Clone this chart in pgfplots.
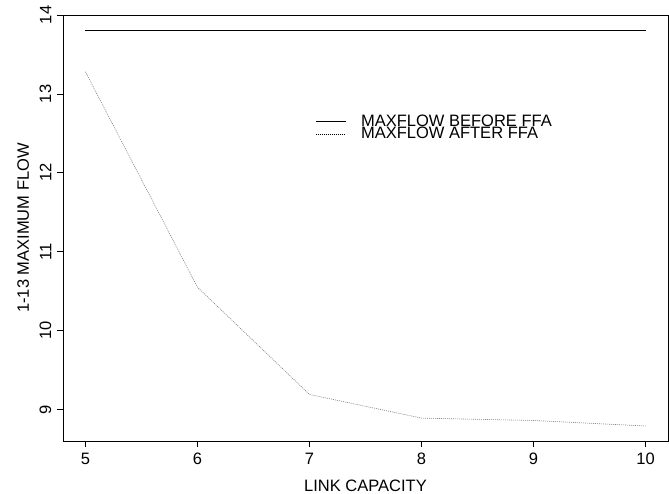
\documentclass[border=0pt]{standalone}
\usepackage{pgfplots}
\pgfplotsset{compat=1.18}
\usepackage{fontspec}
\setmainfont{Liberation Sans}
\begin{document}
\fontsize{16.5}{19}\selectfont
\begin{tikzpicture}
\begin{axis}[
  at={(0,0)}, anchor=south west,
  scale only axis, width=605pt, height=426pt,
  xmin=4.8, xmax=10.2, ymin=8.6, ymax=14,
  xtick={5,6,7,8,9,10}, ytick={9,10,11,12,13,14},
  tick align=outside, xtick pos=bottom, ytick pos=left,
  major tick length=6pt,
  tick style={black, line width=0.6pt},
  axis line style={line width=0.8pt},
  /pgf/number format/assume math mode=true,
  xticklabel style={font=\fontsize{16.5}{19}\selectfont},
  yticklabel style={font=\fontsize{16.5}{19}\selectfont, rotate=90, anchor=south},
  xlabel={LINK CAPACITY}, ylabel={1-13 MAXIMUM FLOW},
  xlabel style={at={(axis description cs:0.5,-0.1197)}, anchor=base, font=\fontsize{16.5}{19}\selectfont},
  ylabel style={at={(axis description cs:-0.0562,0.5)}, anchor=base, rotate=0, font=\fontsize{16.5}{19}\selectfont},
  legend style={at={(axis cs:7.05,12.74)}, anchor=north west, draw=none, fill=none,
    inner sep=0pt, row sep=-1.5pt, column sep=15pt, nodes={inner sep=0pt},
    font=\fontsize{16.5}{19}\selectfont},
  legend cell align=left,
  legend image code/.code={\draw[#1] (0pt,0pt) -- (30pt,0pt);},
]
\addplot[black, line width=0.8pt] coordinates {(5,13.8) (6,13.8) (7,13.8) (8,13.8) (9,13.8) (10,13.8)};
\addlegendentry{MAXFLOW BEFORE FFA}
\addplot[gray, line width=0.6pt, dash pattern=on 1pt off 1pt,
  legend image code/.code={\draw[black, line width=0.6pt, dash pattern=on 1pt off 1pt] (0pt,0pt) -- (30pt,0pt);}]
  coordinates {(5,13.28) (6,10.55) (7,9.19) (8,8.89) (9,8.86) (10,8.79)};
\addlegendentry{MAXFLOW AFTER FFA}
\end{axis}
\pgfresetboundingbox
\path[use as bounding box] (-63pt,-53pt) rectangle (606pt,441pt);
\end{tikzpicture}
\end{document}
